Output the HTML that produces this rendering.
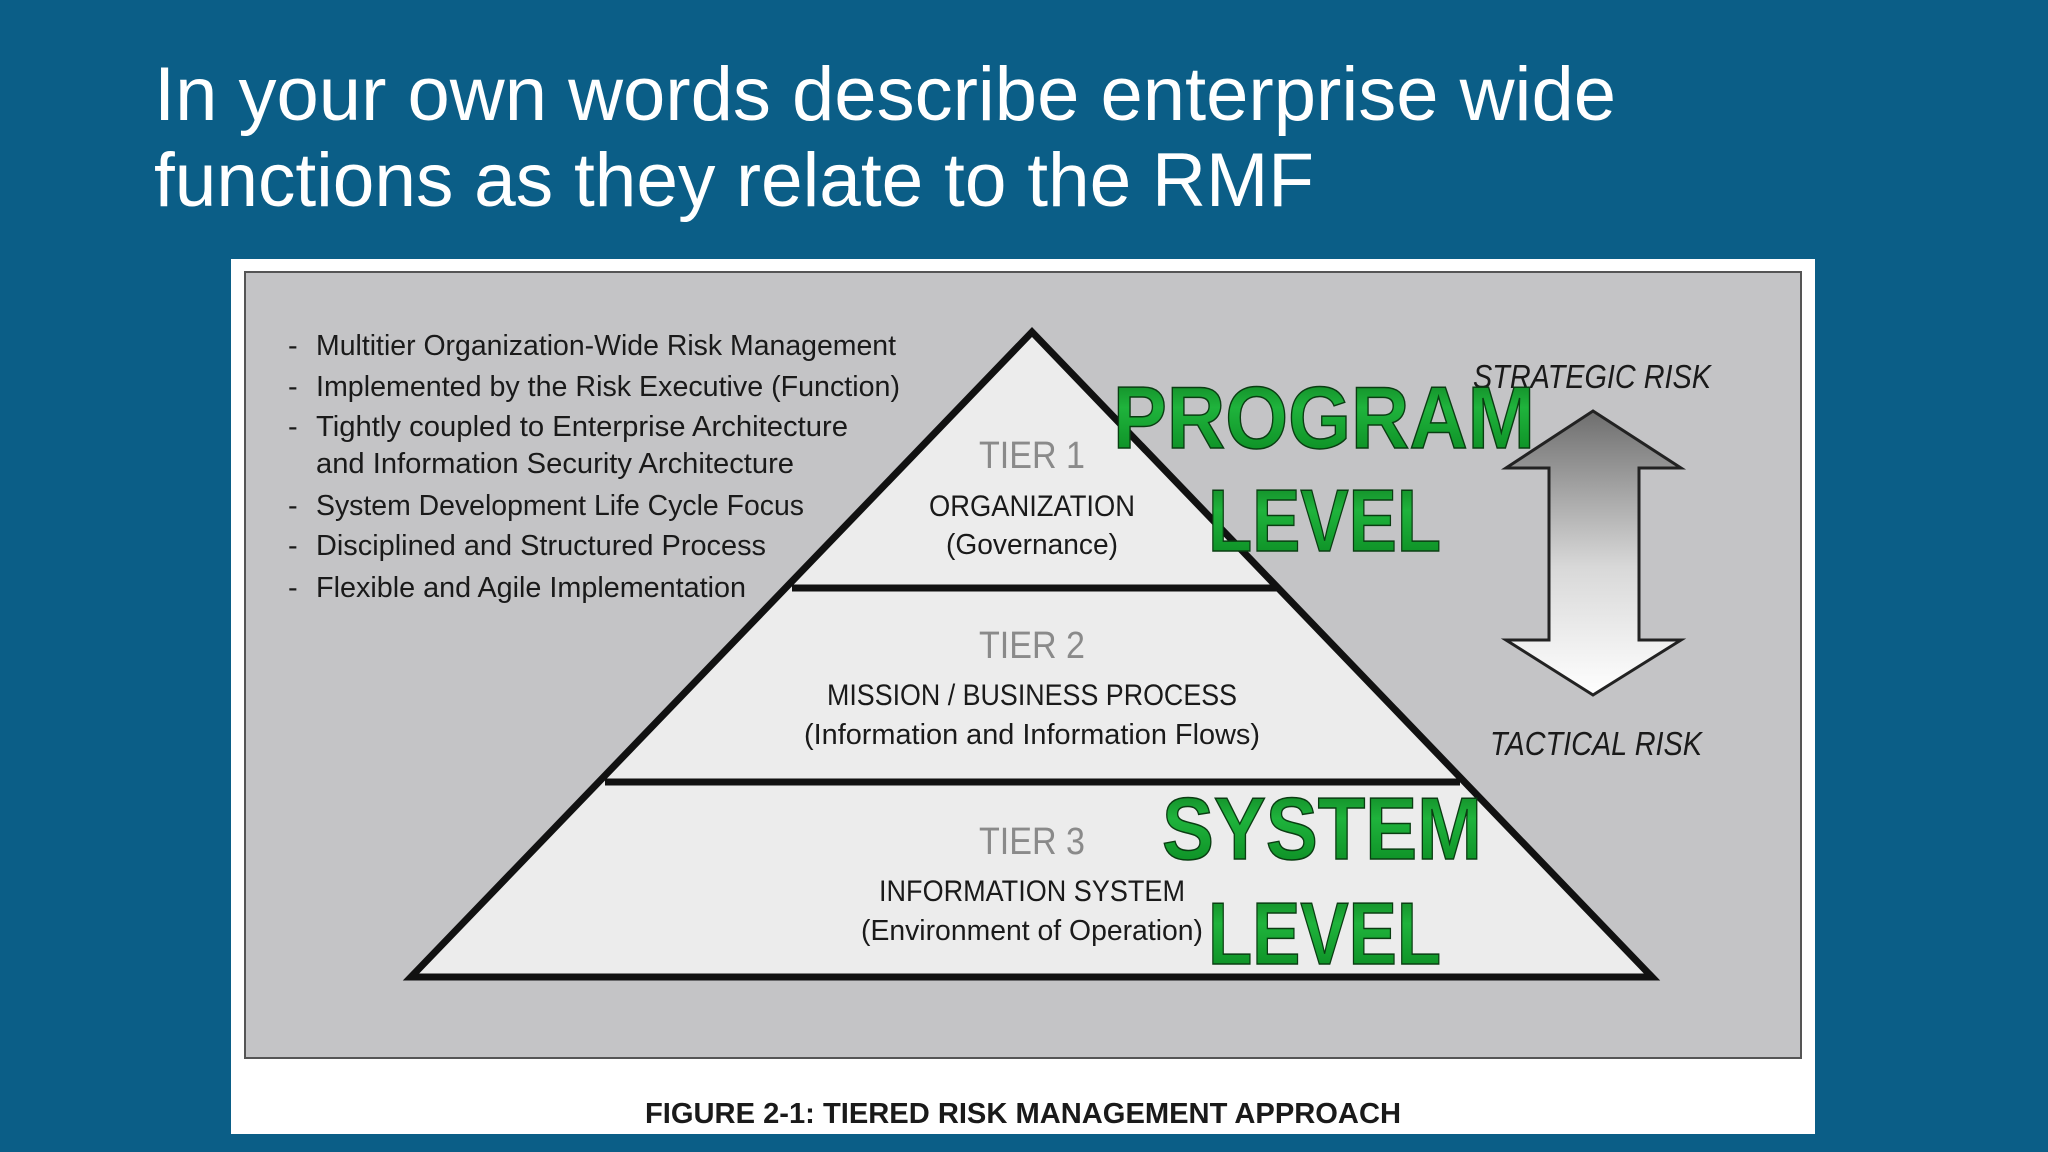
<!DOCTYPE html>
<html><head><meta charset="utf-8"><style>
html,body{margin:0;padding:0;background:#0b5e87;}
svg{display:block}
</style></head><body>
<svg width="2048" height="1152" viewBox="0 0 2048 1152" xmlns="http://www.w3.org/2000/svg">
<defs>
<linearGradient id="ag" x1="0" y1="0" x2="0" y2="1">
<stop offset="0" stop-color="#6e6e6e"/><stop offset="0.55" stop-color="#d8d8d8"/><stop offset="1" stop-color="#ffffff"/>
</linearGradient>
<linearGradient id="gg" x1="0" y1="0" x2="0" y2="1">
<stop offset="0" stop-color="#0c7a1e"/><stop offset="0.4" stop-color="#1fb33c"/><stop offset="1" stop-color="#08861f"/>
</linearGradient>
</defs>
<rect width="2048" height="1152" fill="#0b5e87"/>
<g font-family="Liberation Sans, sans-serif" fill="#ffffff" font-size="76">
<text x="154" y="120" textLength="1462" lengthAdjust="spacingAndGlyphs">In your own words describe enterprise wide</text>
<text x="154" y="206" textLength="1160" lengthAdjust="spacingAndGlyphs">functions as they relate to the RMF</text>
</g>
<rect x="231" y="259" width="1584" height="875" fill="#ffffff"/>
<rect x="245" y="272" width="1556" height="786" fill="#c4c4c6" stroke="#555" stroke-width="2"/>
<polygon points="1032,332 1652,977 411,977" fill="#ececec" stroke="#111" stroke-width="7" stroke-linejoin="miter"/>
<line x1="792" y1="588" x2="1277" y2="588" stroke="#111" stroke-width="7"/>
<line x1="605" y1="782" x2="1460" y2="782" stroke="#111" stroke-width="7"/>
<g font-family="Liberation Sans Narrow, Liberation Sans, sans-serif" font-size="29" fill="#1a1a1a">
<text x="288" y="355">-</text><text x="316" y="355" textLength="580" lengthAdjust="spacingAndGlyphs">Multitier Organization-Wide Risk Management</text>
<text x="288" y="396">-</text><text x="316" y="396" textLength="584" lengthAdjust="spacingAndGlyphs">Implemented by the Risk Executive (Function)</text>
<text x="288" y="436">-</text><text x="316" y="436" textLength="532" lengthAdjust="spacingAndGlyphs">Tightly coupled to Enterprise Architecture</text>
<text x="316" y="473" textLength="478" lengthAdjust="spacingAndGlyphs">and Information Security Architecture</text>
<text x="288" y="515">-</text><text x="316" y="515" textLength="488" lengthAdjust="spacingAndGlyphs">System Development Life Cycle Focus</text>
<text x="288" y="555">-</text><text x="316" y="555" textLength="450" lengthAdjust="spacingAndGlyphs">Disciplined and Structured Process</text>
<text x="288" y="597">-</text><text x="316" y="597" textLength="430" lengthAdjust="spacingAndGlyphs">Flexible and Agile Implementation</text>
</g>
<g font-family="Liberation Sans Narrow, Liberation Sans, sans-serif" text-anchor="middle">
<text x="1032" y="468" font-size="38" fill="#8a8a8a" textLength="106" lengthAdjust="spacingAndGlyphs">TIER 1</text>
<text x="1032" y="516" font-size="30" fill="#1a1a1a" textLength="206" lengthAdjust="spacingAndGlyphs">ORGANIZATION</text>
<text x="1032" y="554" font-size="29" fill="#1a1a1a" textLength="172" lengthAdjust="spacingAndGlyphs">(Governance)</text>
<text x="1032" y="658" font-size="38" fill="#8a8a8a" textLength="106" lengthAdjust="spacingAndGlyphs">TIER 2</text>
<text x="1032" y="705" font-size="30" fill="#1a1a1a" textLength="410" lengthAdjust="spacingAndGlyphs">MISSION / BUSINESS PROCESS</text>
<text x="1032" y="744" font-size="29" fill="#1a1a1a" textLength="456" lengthAdjust="spacingAndGlyphs">(Information and Information Flows)</text>
<text x="1032" y="854" font-size="38" fill="#8a8a8a" textLength="106" lengthAdjust="spacingAndGlyphs">TIER 3</text>
<text x="1032" y="901" font-size="30" fill="#1a1a1a" textLength="306" lengthAdjust="spacingAndGlyphs">INFORMATION SYSTEM</text>
<text x="1032" y="940" font-size="29" fill="#1a1a1a" textLength="342" lengthAdjust="spacingAndGlyphs">(Environment of Operation)</text>
</g>
<polygon points="1593,411 1681,468 1639,468 1639,640 1681,640 1593,695 1506,640 1549,640 1549,468 1506,468" fill="url(#ag)" stroke="#222" stroke-width="3"/>
<g font-family="Liberation Sans Narrow, Liberation Sans, sans-serif" font-style="italic" font-size="33" fill="#1a1a1a">
<text x="1473" y="388" textLength="238" lengthAdjust="spacingAndGlyphs">STRATEGIC RISK</text>
<text x="1490" y="755" textLength="212" lengthAdjust="spacingAndGlyphs">TACTICAL RISK</text>
</g>
<g font-family="Liberation Sans Narrow, Liberation Sans, sans-serif" font-weight="bold" font-size="88" fill="url(#gg)" stroke="#0a3d12" stroke-width="1.5">
<text x="1113" y="448" textLength="422" lengthAdjust="spacingAndGlyphs">PROGRAM</text>
<text x="1208" y="551" textLength="233" lengthAdjust="spacingAndGlyphs">LEVEL</text>
<text x="1162" y="859" textLength="320" lengthAdjust="spacingAndGlyphs">SYSTEM</text>
<text x="1208" y="964" textLength="233" lengthAdjust="spacingAndGlyphs">LEVEL</text>
</g>
<text x="645" y="1123" font-family="Liberation Sans Narrow, Liberation Sans, sans-serif" font-weight="bold" font-size="29" fill="#1a1a1a" textLength="756" lengthAdjust="spacingAndGlyphs">FIGURE 2-1:  TIERED RISK MANAGEMENT APPROACH</text>
</svg>
</body></html>
